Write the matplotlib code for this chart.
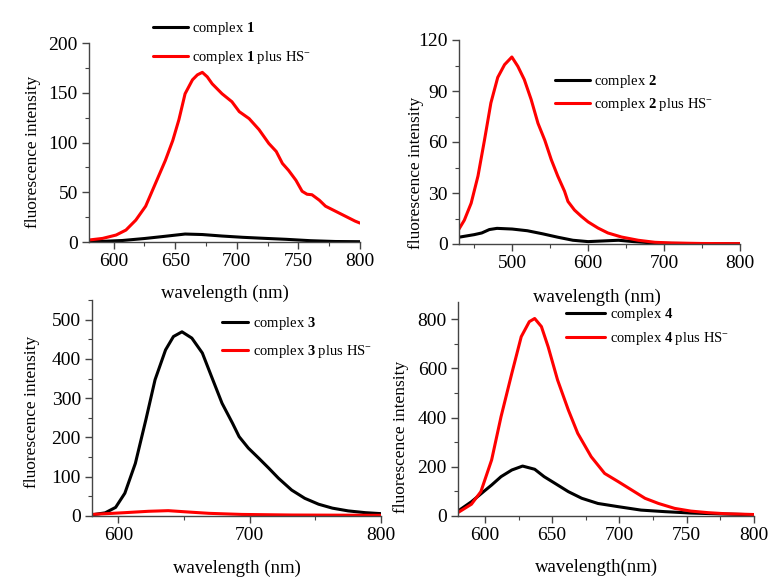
import matplotlib
matplotlib.use("Agg")
import matplotlib.pyplot as plt
from matplotlib.ticker import MultipleLocator

plt.rcParams['font.family'] = ['Liberation Serif', 'DejaVu Serif']
plt.rcParams['mathtext.fontset'] = 'custom'
plt.rcParams['mathtext.rm'] = 'Liberation Serif'
plt.rcParams['mathtext.bf'] = 'Liberation Serif:bold'
plt.rcParams['mathtext.it'] = 'Liberation Serif:italic'
plt.rcParams['lines.solid_joinstyle'] = 'round'
plt.rcParams['lines.solid_capstyle'] = 'round'

# ---------------- data ----------------
# complex 1
wl1_red = [580, 591, 602, 610, 618, 626, 634, 642, 648, 653, 658, 664, 668, 672, 676, 680, 688, 696,
           702, 710, 718, 726, 732, 737, 742, 748, 753, 757, 761, 767, 772, 780, 788, 796, 800]
c1_plus = [2, 3.6, 7, 12, 22, 36, 59, 82, 102, 123, 149, 163, 168, 170.5, 166, 159, 149, 141,
           131, 124, 113, 99, 91, 79, 72, 62, 51, 48, 47.5, 42, 36, 31, 26, 21, 19]
wl1_blk = [580, 590, 607, 625, 640, 658, 672, 688, 705, 722, 740, 760, 780, 800]
c1 = [0.3, 0.6, 1.5, 3.5, 5.5, 8, 7.5, 6, 4.7, 3.7, 2.7, 1.3, 0.5, 0.3]

# complex 2
wl2_red = [430, 437, 446, 455, 463.5, 472, 481, 490, 499.6, 507.5, 516, 525, 534, 543, 551.5, 560,
           569, 573.5, 582, 591, 600, 613, 626, 644, 666, 688, 710, 750, 800]
c2_plus = [8.8, 14, 24, 40, 61, 83, 98, 105.5, 110, 104.5, 96.7, 85, 71, 61, 49.6, 40,
           31, 25, 20, 16.3, 13, 9.4, 6.5, 4.1, 2.2, 1, 0.6, 0.3, 0.2]
wl2_blk = [430, 450, 460, 470, 480, 500, 520, 540, 560, 580, 600, 620, 640, 660, 680, 700, 750, 800]
c2 = [4, 5.5, 6.5, 8.5, 9.2, 8.8, 7.8, 6, 4, 2.2, 1.4, 1.8, 2.2, 1.4, 0.8, 0.4, 0.2, 0.1]

# complex 3
wl3_blk = [580, 590, 598, 605, 613, 621, 628, 636, 642, 648.5, 656, 664, 671, 679, 687, 692, 699,
           707, 714.5, 722, 732, 742, 752.5, 763, 775, 788, 800]
c3 = [3, 8, 22, 58, 134, 245, 347, 423, 457, 469, 453, 415, 355, 287, 236, 202, 173,
      147, 122, 96, 66, 45, 30, 20, 13, 8.5, 6]
wl3_red = [580, 605, 623, 638, 654, 669, 694, 732, 800]
c3_plus = [4, 8.5, 12, 13.6, 10, 6.8, 4, 2.5, 1.7]

# complex 4
wl4_red = [580, 590, 597, 605, 612, 620, 627, 633, 637, 642, 647, 654, 662, 669, 679, 689, 699,
           709, 719, 729, 741, 753, 766, 778, 800]
c4_plus = [14, 48, 99, 228, 404, 580, 729, 790, 803, 770, 688, 553, 431, 336, 241, 173, 140,
           106, 72, 51, 31, 20, 13.5, 9.5, 6]
wl4_blk = [580, 590, 599, 605, 612, 620, 628, 637, 644, 652, 662, 672, 684, 699, 716, 734, 753,
           778, 800]
c4 = [20, 58, 99, 126, 160, 187, 203, 190, 160, 133, 99, 72, 51, 38, 24, 17.6, 12, 8, 5]

W, H = 777, 579
fig = plt.figure(figsize=(W / 100, H / 100), dpi=100)


def ax_at(l, t, r, b):
    return fig.add_axes([l / W, 1 - b / H, (r - l) / W, (b - t) / H])


def style(ax, xlim, ylim, xmaj, xmin, ymaj, ymin):
    ax.set_xlim(*xlim)
    ax.set_ylim(*ylim)
    ax.xaxis.set_major_locator(MultipleLocator(xmaj))
    ax.xaxis.set_minor_locator(MultipleLocator(xmin))
    ax.yaxis.set_major_locator(MultipleLocator(ymaj))
    ax.yaxis.set_minor_locator(MultipleLocator(ymin))
    for s in ('top', 'right'):
        ax.spines[s].set_visible(False)
    for s in ('left', 'bottom'):
        ax.spines[s].set_linewidth(1.0)
        ax.spines[s].set_color('#444444')
    ax.tick_params(which='major', direction='out', length=5, width=1, color='#444444',
                   labelsize=14, pad=3)
    ax.tick_params(which='minor', direction='out', length=3, width=0.8, color='#444444')


def labels(xy, yl_xy, xtext='wavelength (nm)'):
    fig.text(xy[0] / W, 1 - xy[1] / H, xtext, ha='center', va='center', fontsize=13.5)
    fig.text(yl_xy[0] / W, 1 - yl_xy[1] / H, 'fluorescence intensity', ha='center', va='center',
             rotation=90, fontsize=12.5)


def legend(ax, n, left, top, hl, ls):
    lab_plain = r'complex $\mathbf{%d}$' % n
    lab_plus = r'complex $\mathbf{%d}$ plus HS$^{-}$' % n
    hs = ax.get_lines()[:2]
    ax.legend(hs, [lab_plain, lab_plus], loc='upper left',
              bbox_to_anchor=(left / W, 1 - top / H), bbox_transform=fig.transFigure,
              frameon=False, fontsize=10.5, handlelength=hl, handletextpad=0.3,
              labelspacing=ls, borderpad=0, borderaxespad=0)


lw = 2.2
red = '#ff0000'

# panel 1
ax1 = ax_at(89, 43, 360, 242)
ax1.plot(wl1_blk, c1, color='black', lw=lw)
ax1.plot(wl1_red, c1_plus, color=red, lw=lw)
style(ax1, (580, 800), (0, 200), 50, 25, 50, 25)
legend(ax1, 1, 153, 20, 2.4, 0.8)
labels((225, 293), (33, 152))

# panel 2
ax2 = ax_at(459, 40, 740, 244)
ax2.plot(wl2_blk, c2, color='black', lw=lw)
ax2.plot(wl2_red, c2_plus, color=red, lw=lw)
style(ax2, (430, 800), (0, 120), 100, 50, 30, 15)
legend(ax2, 2, 555, 73, 2.4, 0.4)
labels((597, 297), (416, 173))

# panel 3
ax3 = ax_at(92, 300, 381, 516)
ax3.plot(wl3_blk, c3, color='black', lw=lw)
ax3.plot(wl3_red, c3_plus, color=red, lw=lw)
style(ax3, (580, 800), (0, 550), 100, 50, 100, 50)
legend(ax3, 3, 222, 315, 1.8, 0.75)
labels((237, 568), (32, 412))

# panel 4
ax4 = ax_at(458, 302, 754, 516)
ax4.plot(wl4_blk, c4, color='black', lw=lw)
ax4.plot(wl4_red, c4_plus, color=red, lw=lw)
style(ax4, (580, 800), (0, 870), 50, 25, 200, 100)
legend(ax4, 4, 566, 306, 2.7, 0.48)
labels((597, 567), (401, 437), xtext='wavelength(nm)')

fig.savefig('out.png', dpi=100)
